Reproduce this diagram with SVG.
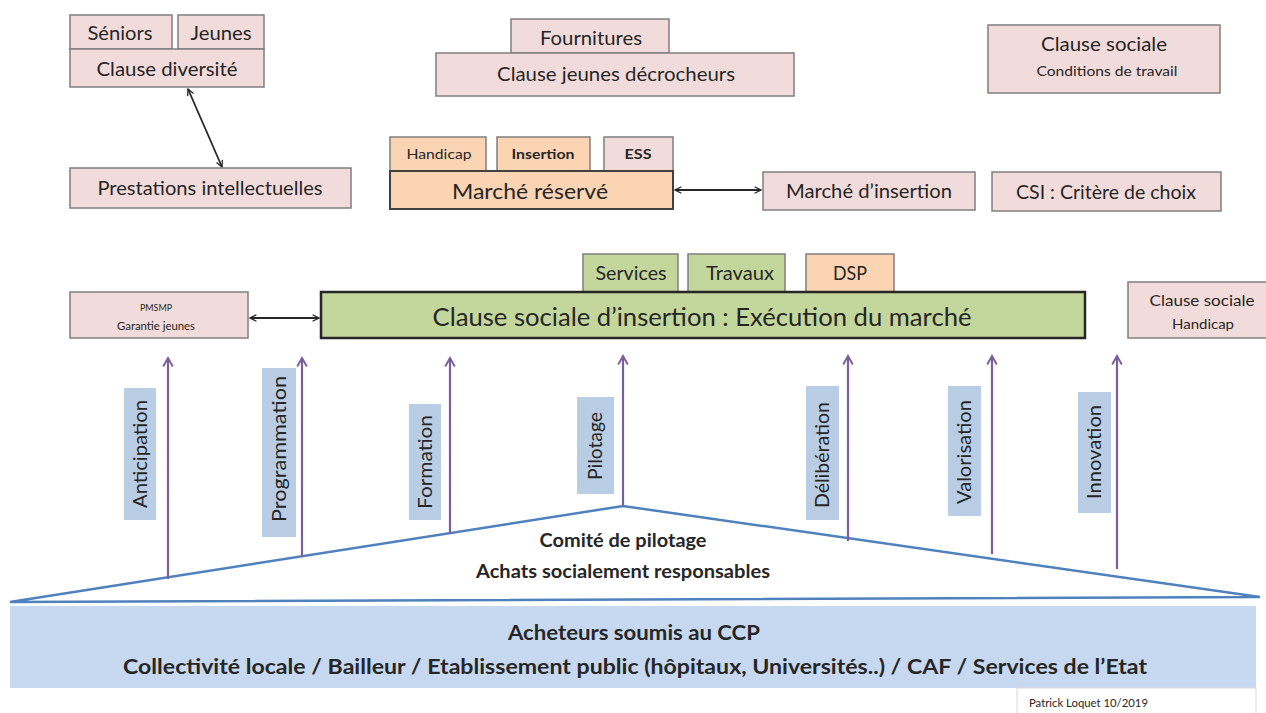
<svg xmlns="http://www.w3.org/2000/svg" width="1266" height="713" viewBox="0 0 1266 713">
<defs>
<style>
.pk{fill:#f2dcdb;stroke:#7f7f7f;stroke-width:1.5}
.or{fill:#fbd4b4;stroke:#404040;stroke-width:2}
.org{fill:#fbd4b4;stroke:#7f7f7f;stroke-width:1.5}
.gr{fill:#c3d69b;stroke:#7f7f7f;stroke-width:1.5}
.grb{fill:#c3d69b;stroke:#262626;stroke-width:2.5}
.lb{fill:#b9cde5;stroke:none}
text{font-family:Lato,"Open Sans","Liberation Sans",sans-serif;fill:#262626}
.c{text-anchor:middle}
.conn{stroke:#262626;stroke-width:1.8;fill:none}
.up{stroke:#7b5e9b;stroke-width:2.2;fill:none}
</style>
<marker id="ah" viewBox="0 0 10 10" refX="9" refY="5" markerWidth="8" markerHeight="8" orient="auto-start-reverse" markerUnits="userSpaceOnUse">
<path d="M1,1 L9,5 L1,9" fill="none" stroke="#262626" stroke-width="1.6"/>
</marker>
<marker id="ap" viewBox="0 0 10 10" refX="8" refY="5" markerWidth="12" markerHeight="12" orient="auto" markerUnits="userSpaceOnUse">
<path d="M1,1 L8,5 L1,9" fill="none" stroke="#7b5e9b" stroke-width="1.6"/>
</marker>
</defs>

<!-- base and triangle -->
<g id="base">
<rect x="10" y="606" width="1246" height="82" fill="#c6d9f1"/>
<text x="634" y="640" class="c" font-size="21" font-weight="bold" textLength="252" lengthAdjust="spacingAndGlyphs">Acheteurs soumis au CCP</text>
<text x="635" y="674" class="c" font-size="21" font-weight="bold" textLength="1024" lengthAdjust="spacingAndGlyphs">Collectivité locale / Bailleur / Etablissement public (hôpitaux, Universités..)  / CAF / Services de l’Etat</text>
</g>
<g id="signature">
<rect x="1017" y="688" width="239" height="26" fill="#fff" stroke="#d9d9d9" stroke-width="1"/>
<text x="1029" y="707" font-size="11" textLength="119" lengthAdjust="spacingAndGlyphs">Patrick Loquet 10/2019</text>
</g>
<g id="comite">
<polygon points="10,602 623,506 1260,597" fill="#fff" stroke="none"/>
<polyline points="10,602 623,506 1260,597 10,602" fill="none" stroke="#4f81bd" stroke-width="2.5"/>
<text x="623" y="547" class="c" font-size="18" font-weight="bold" textLength="167" lengthAdjust="spacingAndGlyphs">Comité de pilotage</text>
<text x="623" y="578" class="c" font-size="18" font-weight="bold" textLength="294" lengthAdjust="spacingAndGlyphs">Achats socialement responsables</text>
</g>

<!-- connectors -->
<g id="connectors">
<line x1="188" y1="89" x2="222" y2="167" class="conn" marker-start="url(#ah)" marker-end="url(#ah)"/>
<line x1="675" y1="190" x2="761" y2="190" class="conn" marker-start="url(#ah)" marker-end="url(#ah)"/>
<line x1="250" y1="318" x2="319" y2="318" class="conn" marker-start="url(#ah)" marker-end="url(#ah)"/>
<line x1="168" y1="579" x2="168" y2="358" class="up" marker-end="url(#ap)"/>
<line x1="302" y1="557" x2="302" y2="358" class="up" marker-end="url(#ap)"/>
<line x1="450" y1="534" x2="450" y2="358" class="up" marker-end="url(#ap)"/>
<line x1="623" y1="506" x2="623" y2="356" class="up" marker-end="url(#ap)"/>
<line x1="848" y1="541" x2="848" y2="356" class="up" marker-end="url(#ap)"/>
<line x1="992" y1="554" x2="992" y2="356" class="up" marker-end="url(#ap)"/>
<line x1="1117" y1="569" x2="1117" y2="356" class="up" marker-end="url(#ap)"/>
</g>

<!-- rotated labels -->
<g id="anticipation"><rect x="124" y="388" width="32" height="132" class="lb"/><text transform="translate(147,454) rotate(-90)" class="c" font-size="19" textLength="108" lengthAdjust="spacingAndGlyphs">Anticipation</text></g>
<g id="programmation"><rect x="262" y="368" width="34" height="169" class="lb"/><text transform="translate(286,449) rotate(-90)" class="c" font-size="19" textLength="146" lengthAdjust="spacingAndGlyphs">Programmation</text></g>
<g id="formation"><rect x="409" y="404" width="32" height="116" class="lb"/><text transform="translate(432,462) rotate(-90)" class="c" font-size="19" textLength="94" lengthAdjust="spacingAndGlyphs">Formation</text></g>
<g id="pilotage"><rect x="577" y="397" width="37" height="97" class="lb"/><text transform="translate(602,446) rotate(-90)" class="c" font-size="19" textLength="68" lengthAdjust="spacingAndGlyphs">Pilotage</text></g>
<g id="deliberation"><rect x="806" y="386" width="33" height="134" class="lb"/><text transform="translate(829,455) rotate(-90)" class="c" font-size="19" textLength="106" lengthAdjust="spacingAndGlyphs">Délibération</text></g>
<g id="valorisation"><rect x="948" y="386" width="33" height="130" class="lb"/><text transform="translate(971,452) rotate(-90)" class="c" font-size="19" textLength="104" lengthAdjust="spacingAndGlyphs">Valorisation</text></g>
<g id="innovation"><rect x="1078" y="392" width="33" height="121" class="lb"/><text transform="translate(1101,452) rotate(-90)" class="c" font-size="19" textLength="94" lengthAdjust="spacingAndGlyphs">Innovation</text></g>

<!-- top left -->
<g id="seniors"><rect x="70" y="15" width="102" height="34" class="pk"/><text x="120" y="40" class="c" font-size="19" textLength="65" lengthAdjust="spacingAndGlyphs">Séniors</text></g>
<g id="jeunes"><rect x="178" y="15" width="86" height="34" class="pk"/><text x="221" y="40" class="c" font-size="19" textLength="61" lengthAdjust="spacingAndGlyphs">Jeunes</text></g>
<g id="clause-diversite"><rect x="70" y="49" width="194" height="38" class="pk"/><text x="167" y="76" class="c" font-size="19" textLength="141" lengthAdjust="spacingAndGlyphs">Clause  diversité</text></g>
<g id="prestations"><rect x="70" y="168" width="281" height="40" class="pk"/><text x="210" y="195" class="c" font-size="19" textLength="225" lengthAdjust="spacingAndGlyphs">Prestations intellectuelles</text></g>

<!-- top middle -->
<g id="fournitures"><rect x="511" y="19" width="158" height="34" class="pk"/><text x="591" y="45" class="c" font-size="19" textLength="102" lengthAdjust="spacingAndGlyphs">Fournitures</text></g>
<g id="clause-jeunes"><rect x="436" y="53" width="358" height="43" class="pk"/><text x="616" y="81" class="c" font-size="19" textLength="238" lengthAdjust="spacingAndGlyphs">Clause  jeunes décrocheurs</text></g>

<!-- top right -->
<g id="clause-sociale-travail"><rect x="988" y="25" width="232" height="68" class="pk"/><text x="1104" y="51" class="c" font-size="19" textLength="126" lengthAdjust="spacingAndGlyphs">Clause  sociale</text><text x="1107" y="76" class="c" font-size="13" textLength="141" lengthAdjust="spacingAndGlyphs">Conditions de travail</text></g>

<!-- marche reserve -->
<g id="handicap"><rect x="390" y="137" width="96" height="34" class="org"/><text x="439" y="159" class="c" font-size="13" textLength="65" lengthAdjust="spacingAndGlyphs">Handicap</text></g>
<g id="insertion"><rect x="497" y="137" width="93" height="34" class="org"/><text x="543" y="159" class="c" font-size="14" font-weight="bold" textLength="63" lengthAdjust="spacingAndGlyphs">Insertion</text></g>
<g id="ess"><rect x="604" y="137" width="69" height="34" class="pk"/><text x="638" y="159" class="c" font-size="14" font-weight="bold" textLength="27" lengthAdjust="spacingAndGlyphs">ESS</text></g>
<g id="marche-reserve"><rect x="390" y="171" width="283" height="38" class="or"/><text x="530" y="199" class="c" font-size="22" textLength="156" lengthAdjust="spacingAndGlyphs">Marché réservé</text></g>
<g id="marche-insertion"><rect x="763" y="172" width="212" height="38" class="pk"/><text x="869" y="198" class="c" font-size="19" textLength="166" lengthAdjust="spacingAndGlyphs">Marché d’insertion</text></g>
<g id="csi"><rect x="992" y="172" width="229" height="39" class="pk"/><text x="1106" y="199" class="c" font-size="19" textLength="180" lengthAdjust="spacingAndGlyphs">CSI : Critère de choix</text></g>

<!-- clause sociale insertion -->
<g id="services"><rect x="583" y="254" width="95" height="38" class="gr"/><text x="631" y="280" class="c" font-size="19" textLength="71" lengthAdjust="spacingAndGlyphs">Services</text></g>
<g id="travaux"><rect x="688" y="254" width="97" height="38" class="gr"/><text x="740" y="280" class="c" font-size="19" textLength="68" lengthAdjust="spacingAndGlyphs">Travaux</text></g>
<g id="dsp"><rect x="806" y="254" width="88" height="38" class="org"/><text x="850" y="280" class="c" font-size="19" textLength="34" lengthAdjust="spacingAndGlyphs">DSP</text></g>
<g id="clause-insertion"><rect x="321" y="292" width="764" height="46" class="grb"/><text x="702" y="326" class="c" font-size="25" textLength="539" lengthAdjust="spacingAndGlyphs">Clause sociale d’insertion : Exécution du marché</text></g>
<g id="pmsmp"><rect x="70" y="292" width="178" height="46" class="pk"/><text x="156" y="311" class="c" font-size="10" textLength="32" lengthAdjust="spacingAndGlyphs">PMSMP</text><text x="156" y="330" class="c" font-size="11" textLength="78" lengthAdjust="spacingAndGlyphs">Garantie jeunes</text></g>
<g id="clause-handicap"><rect x="1128" y="282" width="140" height="56" class="pk"/><text x="1202" y="306" class="c" font-size="16" textLength="105" lengthAdjust="spacingAndGlyphs">Clause sociale</text><text x="1203" y="329" class="c" font-size="14" textLength="62" lengthAdjust="spacingAndGlyphs">Handicap</text></g>
</svg>
